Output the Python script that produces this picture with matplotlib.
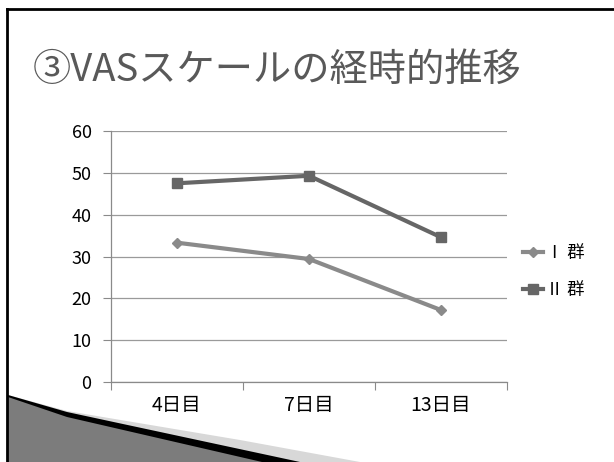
import matplotlib
matplotlib.use("Agg")
import matplotlib.pyplot as plt
from matplotlib.patches import Polygon
from matplotlib.lines import Line2D

plt.rcParams['font.family'] = ['Noto Sans CJK JP', 'DejaVu Sans']

days = ["4日目", "7日目", "13日目"]
group1 = [33.3, 29.4, 17.2]
group2 = [47.5, 49.3, 34.6]
labels = ["Ⅰ 群", "Ⅱ 群"]

W, H = 614, 462
fig = plt.figure(figsize=(W / 100, H / 100), dpi=100)

# slide frame (top and left edges)
fig.add_artist(Line2D([7 / W, 1], [1 - 9 / H, 1 - 9 / H], color="black", lw=2))
fig.add_artist(Line2D([7 / W, 7 / W], [0, 1 - 9 / H], color="black", lw=2))

def px(pts):
    return [(x / W, 1 - y / H) for x, y in pts]

# corner swoosh
fig.add_artist(Polygon(px([(8, 395), (67, 411), (240, 440), (360, 462), (8, 462)]),
                       closed=True, fc="#d8d8d8", ec="none"))
fig.add_artist(Polygon(px([(8, 395), (67, 412), (300, 462), (8, 462)]),
                       closed=True, fc="black", ec="none"))
fig.add_artist(Polygon(px([(8, 397), (67, 417), (262, 462), (8, 462)]),
                       closed=True, fc="#7c7c7c", ec="none"))

fig.text(33 / W, 1 - 70 / H, "③VASスケールの経時的推移", fontsize=27.5,
         color="#595959", va="center", ha="left")

ax = fig.add_axes([111 / W, 1 - 382 / H, 396 / W, 251 / H])
x = list(range(len(days)))
ax.plot(x, group1, color="#8a8a8a", lw=3, marker="D", ms=5, label=labels[0],
        zorder=3, clip_on=False)
ax.plot(x, group2, color="#666666", lw=3, marker="s", ms=6.5, label=labels[1],
        zorder=3, clip_on=False)

ax.set_xlim(-0.5, 2.5)
ax.set_ylim(0, 60)
ax.set_yticks(range(0, 61, 10))
ax.set_xticks([-0.5, 0.5, 1.5, 2.5])
ax.set_xticklabels([])
ax.set_xticks(x, minor=True)
ax.set_xticklabels(days, minor=True, fontsize=14)
ax.tick_params(axis="x", which="minor", length=0, pad=9)
ax.tick_params(axis="x", which="major", length=6, color="#8a8a8a", direction="out")
ax.tick_params(axis="y", length=6, color="#8a8a8a", labelsize=13, pad=8)
ax.grid(axis="y", color="#9a9a9a", lw=0.9)
ax.set_axisbelow(True)
for s in ["top", "right"]:
    ax.spines[s].set_visible(False)
for s in ["left", "bottom"]:
    ax.spines[s].set_color("#8a8a8a")
    ax.spines[s].set_linewidth(0.9)

ax.legend(loc="center left", bbox_to_anchor=(1.0, 0.44), frameon=False,
          fontsize=12.5, handlelength=1.2, handletextpad=0.15, labelspacing=1.1)

fig.savefig("out.png", dpi=100)
